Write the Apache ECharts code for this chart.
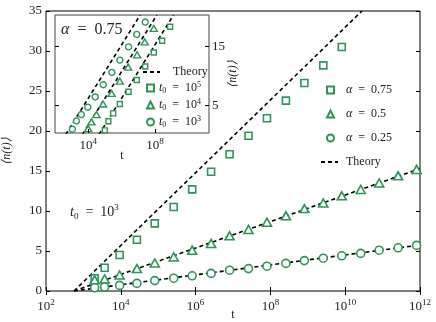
<!DOCTYPE html>
<html>
<head>
<meta charset="utf-8">
<script src="https://cdn.jsdelivr.net/npm/echarts@6/dist/echarts.min.js"></script>
<style>html,body{margin:0;padding:0;background:#fff}#chart{width:436px;height:322px}</style>
</head>
<body>
<div id="chart"></div>
<script>
// main panel, t0 = 10^3
var tMain = [2000, 3700, 9300, 2.7e4, 8.1e4, 2.6e5, 8.1e5, 2.6e6, 8.1e6, 2.6e7, 8.1e7, 2.6e8, 8.1e8, 2.6e9, 8.1e9, 2.6e10, 8.1e10, 2.6e11, 8.1e11];
var nA075 = [1.6, 2.9, 4.5, 6.4, 8.45, 10.5, 12.7, 14.9, 17.1, 19.4, 21.6, 23.8, 26.0, 28.2, 30.5];
var nA05 = [1.4, 1.5, 2.0, 2.8, 3.5, 4.25, 5.1, 5.95, 6.9, 7.7, 8.6, 9.4, 10.3, 11.0, 11.9, 12.7, 13.5, 14.4, 15.2];
var nA025 = [0.4, 0.5, 0.7, 0.95, 1.3, 1.6, 1.9, 2.2, 2.6, 2.8, 3.1, 3.45, 3.8, 4.1, 4.4, 4.7, 5.1, 5.4, 5.7];
// theory lines: [start, end]
var thT075 = [560, 2.8e10], thN075 = [0, 35];
var thT05 = [560, 1e12], thN05 = [0, 15.3];
var thT025 = [560, 1e12], thN025 = [0, 5.75];

// inset, alpha = 0.75
var tIn3 = [1.1e3, 1.95e3, 3.8e3, 9.3e3, 2.6e4, 7.9e4, 2.6e5, 7.8e5, 2.6e6, 8.1e6, 2.6e7];
var nIn3 = [0.9, 2.3, 3.4, 4.65, 6.4, 8.5, 10.6, 12.7, 14.95, 17.1, 19.2];
var tIn4 = [9.8e3, 1.55e4, 3.1e4, 7.7e4, 2.5e5, 7.8e5, 2.45e6, 8.5e6, 2.45e7, 8.5e7];
var nIn4 = [1.0, 2.14, 3.4, 5.2, 7.0, 9.1, 11.5, 13.6, 15.8, 18.1];
var tIn5 = [9.8e4, 1.6e5, 3.1e5, 7.8e5, 2.6e6, 8.1e6, 2.6e7, 8.5e7, 2.7e8, 8.1e8];
var nIn5 = [0.7, 2.25, 3.6, 5.2, 7.3, 9.3, 11.6, 14.0, 16.0, 18.4];
var thIn3 = [440, 1.3e7], thIn4 = [4400, 1.3e8], thIn5 = [4.4e4, 1.3e9], thInN = [0, 20.4];

// ticks
var xTicksMain = [1e2, 1e4, 1e6, 1e8, 1e10, 1e12];
var yTicksMain = [0, 5, 10, 15, 20, 25, 30, 35];
var xTicksIn = [1e4, 1e8];
var yTicksIn = [5, 15];

var green = '#2e9457';
var serif = 'Liberation Serif';

function pts(t, n) {
  var out = [];
  for (var i = 0; i < n.length; i++) out.push([t[i], n[i]]);
  return out;
}
function pow10(v) {
  return '10{sup|' + Math.round(Math.log10(v)) + '}';
}
var richTxt = {
  sup: { fontSize: 9, fontFamily: serif, verticalAlign: 'top', lineHeight: 18, color: '#222' },
  sub: { fontSize: 9, fontFamily: serif, verticalAlign: 'bottom', lineHeight: 18, color: '#222' },
  i: { fontStyle: 'italic', fontFamily: serif, fontSize: 14, color: '#222', lineHeight: 18 }
};
var richLeg = {
  sup: { fontSize: 8, fontFamily: serif, verticalAlign: 'top', lineHeight: 14, color: '#222' },
  sub: { fontSize: 8, fontFamily: serif, verticalAlign: 'bottom', lineHeight: 14, color: '#222' },
  i: { fontStyle: 'italic', fontFamily: serif, fontSize: 12, color: '#222', lineHeight: 14 }
};
function hollow(sym, size) {
  return { type: 'scatter', symbol: sym, symbolSize: size,
    itemStyle: { color: '#fff', borderColor: green, borderWidth: 1.6, opacity: 1 } };
}
function theory(t, n, xi, yi, z) {
  return { name: 'Theory', type: 'line', xAxisIndex: xi, yAxisIndex: yi, z: z,
    symbol: 'none', data: pts(t, n), silent: true,
    itemStyle: { color: 'transparent', borderWidth: 0 },
    lineStyle: { color: '#000', width: 1.6, type: [4, 3] } };
}

var s1 = hollow('rect', 7); s1.name = 'α = 0.75'; s1.data = pts(tMain, nA075);
var s2 = hollow('triangle', [9, 8]); s2.name = 'α = 0.5'; s2.data = pts(tMain, nA05);
var s3 = hollow('circle', 8); s3.name = 'α = 0.25'; s3.data = pts(tMain, nA025);
[s1, s2, s3].forEach(function (s) { s.xAxisIndex = 0; s.yAxisIndex = 0; });

var i5 = hollow('rect', 5); i5.name = 't0 = 10^5'; i5.data = pts(tIn5, nIn5);
var i4 = hollow('triangle', [7, 6]); i4.name = 't0 = 10^4'; i4.data = pts(tIn4, nIn4);
var i3 = hollow('circle', 6); i3.name = 't0 = 10^3'; i3.data = pts(tIn3, nIn3);
[i5, i4, i3].forEach(function (s) { s.xAxisIndex = 2; s.yAxisIndex = 2; s.z = 8; s.itemStyle.borderWidth = 1.4; });

var tickStyle = { inside: true, length: 4, lineStyle: { color: '#000', width: 1 } };
var labelStyle = { fontFamily: serif, fontSize: 13, color: '#222' };
var legText = { fontFamily: serif, fontSize: 12, color: '#222', lineHeight: 14, rich: richLeg };

var chart = echarts.init(document.getElementById('chart'), null, { renderer: 'canvas' });
chart.setOption({
  animation: false,
  backgroundColor: '#fff',
  grid: [
    { left: 46, right: 16, top: 11, bottom: 31, outerBoundsMode: 'none', containLabel: false,
      show: true, borderColor: '#000', borderWidth: 1, backgroundColor: 'transparent' },
    { left: 55, top: 15, width: 154, height: 118, outerBoundsMode: 'none', containLabel: false,
      show: true, borderColor: '#444', borderWidth: 1, backgroundColor: '#fff', z: 5 }
  ],
  xAxis: [
    { type: 'log', gridIndex: 0, min: 1e2, max: 1e12, name: 't', nameLocation: 'middle', nameGap: 18, nameMoveOverlap: false,
      nameTextStyle: { fontFamily: serif, fontSize: 12, color: '#222' },
      axisLine: { show: false }, splitLine: { show: false },
      axisTick: Object.assign({ customValues: xTicksMain }, tickStyle),
      axisLabel: Object.assign({ customValues: xTicksMain, margin: 7, formatter: pow10, rich: richTxt, lineHeight: 18 }, labelStyle) },
    { type: 'log', gridIndex: 0, position: 'top', min: 1e2, max: 1e12,
      axisLine: { show: false }, splitLine: { show: false }, axisLabel: { show: false },
      axisTick: Object.assign({ customValues: xTicksMain }, tickStyle) },
    { type: 'log', gridIndex: 1, min: 1e2, max: 1.75e11, name: 't', nameLocation: 'middle', nameGap: 17, nameMoveOverlap: false, z: 9,
      nameTextStyle: { fontFamily: serif, fontSize: 12, color: '#222', padding: [0, 20, 0, 0] },
      axisLine: { show: false }, splitLine: { show: false },
      axisTick: Object.assign({ customValues: xTicksIn }, tickStyle),
      axisLabel: Object.assign({ customValues: xTicksIn, margin: 4, formatter: pow10, rich: richTxt, lineHeight: 18 }, labelStyle) }
  ],
  yAxis: [
    { type: 'value', gridIndex: 0, min: 0, max: 35, interval: 5, name: '⟨n(t)⟩', nameLocation: 'middle', nameGap: 33, nameRotate: 90,
      nameMoveOverlap: false,
      nameTextStyle: { fontFamily: serif, fontSize: 12, fontStyle: 'italic', color: '#222' },
      axisLine: { show: false }, splitLine: { show: false },
      axisTick: Object.assign({ customValues: yTicksMain }, tickStyle),
      axisLabel: Object.assign({ customValues: yTicksMain, margin: 4 }, labelStyle) },
    { type: 'value', gridIndex: 0, position: 'right', min: 0, max: 35, interval: 5,
      axisLine: { show: false }, splitLine: { show: false }, axisLabel: { show: false },
      axisTick: Object.assign({ customValues: yTicksMain }, tickStyle) },
    { type: 'value', gridIndex: 1, position: 'right', min: 0.25, max: 20.4, z: 9,
      name: '⟨n(t)⟩', nameLocation: 'middle', nameGap: 18, nameRotate: 90, nameMoveOverlap: false,
      nameTextStyle: { fontFamily: serif, fontSize: 12, fontStyle: 'italic', color: '#222' },
      axisLine: { show: false }, splitLine: { show: false },
      axisTick: Object.assign({ customValues: yTicksIn }, tickStyle),
      axisLabel: Object.assign({ customValues: yTicksIn, margin: 3 }, labelStyle) },
    { type: 'value', gridIndex: 1, position: 'left', min: 0.25, max: 20.4, z: 9,
      axisLine: { show: false }, splitLine: { show: false }, axisLabel: { show: false },
      axisTick: Object.assign({ customValues: yTicksIn }, tickStyle) }
  ],
  legend: [
    { orient: 'vertical', left: 326, top: 83, padding: 0, itemWidth: 7, itemHeight: 7, itemGap: 10,
      data: ['α = 0.75', 'α = 0.5', 'α = 0.25'],
      itemStyle: { borderWidth: 2 },
      textStyle: Object.assign({ padding: [0, 0, 0, 7] }, legText),
      formatter: function (name) { return name.replace('α', '{i|α}').replace(' = ', '  =  '); } },
    { orient: 'vertical', left: 320, top: 155, padding: 0, itemWidth: 17, itemHeight: 7,
      data: ['Theory'], textStyle: Object.assign({ padding: [0, 0, 0, 3] }, legText) },
    { orient: 'vertical', left: 142, top: 65, padding: 0, itemWidth: 17, itemHeight: 7, z: 10,
      data: ['Theory'], textStyle: Object.assign({ padding: [0, 0, 0, 8] }, legText) },
    { orient: 'vertical', left: 146, top: 81, padding: 0, itemWidth: 7, itemHeight: 7, itemGap: 3, z: 10,
      data: ['t0 = 10^5', 't0 = 10^4', 't0 = 10^3'],
      itemStyle: { borderWidth: 2 },
      textStyle: legText,
      formatter: function (name) { return '{i|t}{sub|0}  =  10{sup|' + name.slice(-1) + '}'; } }
  ],
  graphic: [
    { type: 'text', left: 70, top: 203, z: 3,
      style: { text: '{i|t}{sub|0}  =  10{sup|3}', font: '14px ' + serif, fill: '#222', rich: richTxt } },
    { type: 'text', left: 61, top: 22, z: 12,
      style: { text: '{a|α}  =  0.75', font: '16px ' + serif, fill: '#222',
        rich: { a: { fontStyle: 'italic', fontFamily: serif, fontSize: 16 } } } }
  ],
  series: [
    theory(thT075, thN075, 0, 0, 2), theory(thT05, thN05, 0, 0, 2), theory(thT025, thN025, 0, 0, 2),
    s1, s2, s3,
    theory(thIn3, thInN, 2, 2, 7), theory(thIn4, thInN, 2, 2, 7), theory(thIn5, thInN, 2, 2, 7),
    i5, i4, i3
  ]
});
</script>
</body>
</html>
